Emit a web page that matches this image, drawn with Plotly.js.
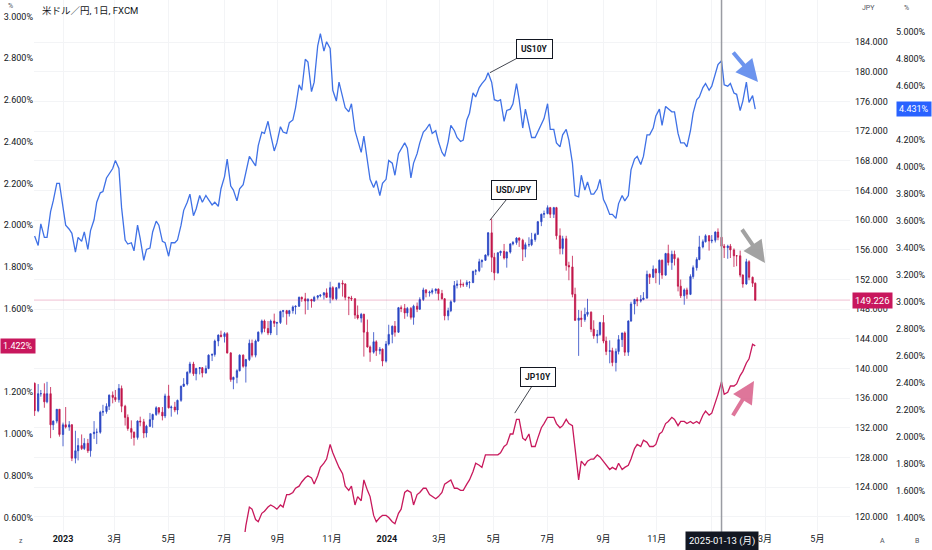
<!DOCTYPE html>
<html><head><meta charset="utf-8">
<script src="https://cdn.plot.ly/plotly-3.0.1.min.js"></script>
<style>html,body{margin:0;padding:0;background:#fff;}#chart{width:932px;height:550px;}</style>
</head><body><div id="chart"></div>
<script>
// ---- data (twice-weekly bars) ----
const dates = ['2022-12-01',
'2022-12-05','2022-12-08','2022-12-12','2022-12-15','2022-12-19','2022-12-22','2022-12-26','2022-12-29',
'2023-01-02','2023-01-05','2023-01-09','2023-01-12','2023-01-16','2023-01-19','2023-01-23','2023-01-26','2023-01-30','2023-02-02',
'2023-02-06','2023-02-09','2023-02-13','2023-02-16','2023-02-20','2023-02-23','2023-02-27','2023-03-02',
'2023-03-06','2023-03-09','2023-03-13','2023-03-16','2023-03-20','2023-03-23','2023-03-27','2023-03-30',
'2023-04-03','2023-04-06','2023-04-10','2023-04-13','2023-04-17','2023-04-20','2023-04-24','2023-04-27',
'2023-05-01','2023-05-04','2023-05-08','2023-05-11','2023-05-15','2023-05-18','2023-05-22','2023-05-25','2023-05-29','2023-06-01',
'2023-06-05','2023-06-08','2023-06-12','2023-06-15','2023-06-19','2023-06-22','2023-06-26','2023-06-29',
'2023-07-03','2023-07-06','2023-07-10','2023-07-13','2023-07-17','2023-07-20','2023-07-24','2023-07-27','2023-07-31','2023-08-03',
'2023-08-07','2023-08-10','2023-08-14','2023-08-17','2023-08-21','2023-08-24','2023-08-28','2023-08-31',
'2023-09-04','2023-09-07','2023-09-11','2023-09-14','2023-09-18','2023-09-21','2023-09-25','2023-09-28',
'2023-10-02','2023-10-05','2023-10-09','2023-10-12','2023-10-16','2023-10-19','2023-10-23','2023-10-26','2023-10-30','2023-11-02',
'2023-11-06','2023-11-09','2023-11-13','2023-11-16','2023-11-20','2023-11-23','2023-11-27','2023-11-30',
'2023-12-04','2023-12-07','2023-12-11','2023-12-14','2023-12-18','2023-12-21','2023-12-25','2023-12-28',
'2024-01-01','2024-01-04','2024-01-08','2024-01-11','2024-01-15','2024-01-18','2024-01-22','2024-01-25','2024-01-29','2024-02-01',
'2024-02-05','2024-02-08','2024-02-12','2024-02-15','2024-02-19','2024-02-22','2024-02-26','2024-02-29',
'2024-03-04','2024-03-07','2024-03-11','2024-03-14','2024-03-18','2024-03-21','2024-03-25','2024-03-28',
'2024-04-01','2024-04-04','2024-04-08','2024-04-11','2024-04-15','2024-04-18','2024-04-22','2024-04-25','2024-04-29','2024-05-02',
'2024-05-06','2024-05-09','2024-05-13','2024-05-16','2024-05-20','2024-05-23','2024-05-27','2024-05-30',
'2024-06-03','2024-06-06','2024-06-10','2024-06-13','2024-06-17','2024-06-20','2024-06-24','2024-06-27',
'2024-07-01','2024-07-04','2024-07-08','2024-07-11','2024-07-15','2024-07-18','2024-07-22','2024-07-25','2024-07-29','2024-08-01',
'2024-08-05','2024-08-08','2024-08-12','2024-08-15','2024-08-19','2024-08-22','2024-08-26','2024-08-29',
'2024-09-02','2024-09-05','2024-09-09','2024-09-12','2024-09-16','2024-09-19','2024-09-23','2024-09-26','2024-09-30','2024-10-03',
'2024-10-07','2024-10-10','2024-10-14','2024-10-17','2024-10-21','2024-10-24','2024-10-28','2024-10-31',
'2024-11-04','2024-11-07','2024-11-11','2024-11-14','2024-11-18','2024-11-21','2024-11-25','2024-11-28',
'2024-12-02','2024-12-05','2024-12-09','2024-12-12','2024-12-16','2024-12-19','2024-12-23','2024-12-26','2024-12-30','2025-01-02',
'2025-01-06','2025-01-09','2025-01-13','2025-01-16','2025-01-20','2025-01-23','2025-01-27','2025-01-30',
'2025-02-03','2025-02-06','2025-02-10','2025-02-13','2025-02-17','2025-02-20'];

const usdjpyOpen = [138.0,
134.3,136.6,136.6,135.5,136.6,132.4,132.9,134.5,
131.1,132.4,132.1,132.4,127.9,128.9,129.6,129.2,129.9,128.9,
131.2,131.4,131.4,134.1,134.2,134.9,136.4,136.1,
135.8,137.3,134.9,133.4,131.9,131.4,130.7,132.9,
132.8,131.3,132.2,133.1,133.8,134.7,134.1,133.6,
136.3,134.7,134.8,134.4,135.7,137.6,137.9,139.5,140.6,139.3,
140.0,140.1,139.4,140.0,141.8,141.9,143.7,144.5,
144.3,144.7,142.1,138.5,138.8,139.7,141.8,140.3,141.2,143.4,
141.8,143.7,144.9,146.4,145.4,144.8,146.4,146.1,
146.2,147.7,147.8,147.4,147.8,148.3,148.4,149.6,
149.4,149.1,149.3,149.1,149.6,149.8,149.9,150.2,149.6,150.9,
149.4,150.9,151.5,151.4,149.6,149.5,149.4,147.2,
146.8,147.3,144.9,142.9,142.2,143.6,142.4,142.6,
141.0,143.3,144.6,145.7,144.9,148.2,148.1,147.5,148.1,146.9,
148.4,148.0,149.3,150.6,150.2,150.3,150.5,150.7,
150.1,149.4,147.1,147.8,149.0,151.2,151.4,151.3,
151.3,151.6,151.6,153.1,153.2,154.4,154.6,155.3,158.3,155.0,
152.9,155.6,155.8,154.9,155.7,156.8,157.0,157.6,
157.3,156.1,156.7,156.7,157.4,158.1,159.8,160.8,
160.9,161.7,160.8,161.7,157.9,156.2,157.5,153.9,153.7,150.0,
146.5,146.8,146.6,147.3,147.6,145.3,144.4,144.6,
146.2,143.7,142.3,142.4,140.8,142.3,143.9,144.8,142.2,146.4,
148.7,149.3,149.1,149.3,149.5,152.7,152.3,153.4,
152.9,154.6,152.6,155.5,154.3,155.4,154.8,151.1,
149.8,150.6,150.0,152.4,153.6,154.7,156.4,157.1,157.9,157.2,
157.3,158.4,157.7,156.5,156.3,156.5,156.0,155.2,
155.2,152.6,151.4,154.4,152.3,151.5];

const usdjpyHigh = [138.1,
137.9,137.1,138.0,138.2,137.5,133.0,134.5,134.5,
132.7,134.8,132.9,132.5,131.6,130.6,131.1,130.6,130.5,131.2,
132.9,131.9,134.3,135.1,135.3,136.5,136.9,137.1,
137.9,137.7,135.1,133.8,133.0,131.5,133.0,133.5,
133.2,132.4,134.0,133.9,134.9,134.8,134.8,136.6,
137.8,135.0,135.5,135.8,137.7,138.7,139.6,140.9,140.9,140.1,
140.2,140.2,140.4,141.9,142.0,143.9,144.6,145.1,
144.9,144.9,142.2,138.9,139.9,141.9,141.9,141.3,143.9,143.9,
143.9,145.0,146.6,146.6,146.4,146.6,147.4,146.3,
147.8,147.9,147.9,147.9,148.5,148.5,149.7,149.7,
150.2,149.5,149.4,149.8,149.9,150.0,150.3,150.8,151.7,151.1,
151.0,151.6,151.9,151.5,149.7,149.8,149.5,148.5,
147.5,147.4,146.6,143.1,144.9,143.8,142.9,142.7,
143.7,145.9,145.8,146.4,148.3,148.5,148.7,148.3,148.3,148.6,
148.9,149.6,150.9,150.7,150.5,150.8,150.8,150.8,
150.6,149.5,148.2,149.2,151.8,151.9,152.0,151.6,
151.9,151.8,153.2,153.4,154.8,154.7,155.4,158.4,160.2,155.6,
155.7,155.9,156.8,155.8,156.9,157.2,157.7,157.7,
157.5,157.0,157.7,158.3,158.3,159.9,160.9,161.3,
162.0,161.8,161.8,161.8,158.9,157.9,157.9,154.4,155.2,150.9,
147.9,147.8,148.2,149.4,147.7,146.5,145.2,146.3,
147.2,144.3,143.8,142.8,142.7,144.5,144.8,145.0,146.5,149.0,
149.4,149.6,149.9,150.3,153.2,152.8,153.9,153.5,
154.7,154.7,155.6,156.7,155.9,155.9,155.0,152.0,
150.8,150.9,152.7,153.9,155.0,157.9,157.4,158.1,158.0,158.0,
158.5,158.9,158.5,156.8,156.7,156.8,156.2,155.3,
155.9,152.7,154.8,154.6,152.4,151.6];

const usdjpyLow = [133.6,
134.1,136.2,134.7,135.3,130.6,131.7,132.6,130.8,
129.5,131.9,131.6,127.5,127.2,127.6,129.0,129.0,128.6,128.1,
130.5,129.8,131.2,133.6,133.9,134.4,135.3,135.5,
135.4,134.1,132.3,131.6,130.5,129.6,130.4,132.2,
130.6,130.7,132.1,132.0,133.6,133.8,133.0,133.3,
134.6,133.5,134.1,133.8,135.5,137.5,137.7,139.3,139.0,138.4,
139.2,138.8,139.3,139.9,141.0,141.6,143.0,144.2,
143.5,142.0,138.2,137.2,138.0,139.6,140.1,138.1,141.0,141.5,
141.5,143.6,144.6,144.9,144.5,144.5,145.6,144.5,
146.0,146.9,145.9,147.0,147.4,147.3,148.3,149.0,
147.3,147.9,148.2,149.0,149.3,149.6,149.3,149.5,148.8,149.2,
149.2,150.7,149.7,149.2,147.2,149.1,146.7,146.6,
146.2,141.6,142.8,140.9,142.0,141.7,141.9,140.3,
140.8,143.1,143.4,144.3,144.8,147.6,146.7,147.0,146.6,145.9,
147.6,147.9,149.1,149.6,149.7,150.0,150.1,149.2,
149.3,146.5,146.5,147.6,148.9,150.8,150.9,151.0,
151.0,150.8,151.5,152.6,153.0,153.6,154.5,155.1,153.0,151.9,
152.8,155.2,154.7,153.6,155.5,156.6,156.7,156.4,
154.5,155.0,156.4,156.5,157.1,158.0,159.2,160.3,
160.8,160.3,160.3,157.4,155.4,155.4,153.2,151.9,149.6,146.4,
141.7,145.6,146.3,147.0,144.9,144.0,143.4,144.4,
143.4,141.8,140.7,140.3,139.6,141.9,142.9,141.7,141.7,146.3,
147.3,148.4,148.9,149.2,149.4,151.4,152.2,151.5,
151.3,152.1,152.5,153.9,153.3,153.9,150.4,149.5,
148.6,149.4,149.9,152.1,153.2,154.6,156.2,157.0,155.9,156.9,
157.0,157.3,155.9,154.9,154.8,154.9,153.7,153.8,
152.3,150.9,151.3,151.9,151.0,149.1];

const usdjpyClose = [134.3,
136.6,136.6,135.5,136.6,132.4,132.9,134.5,131.1,
132.4,132.1,132.4,127.9,128.9,129.6,129.2,129.9,128.9,131.2,
131.4,131.4,134.1,134.2,134.9,136.4,136.1,135.8,
137.3,134.9,133.4,131.9,131.4,130.7,132.9,132.8,
131.3,132.2,133.1,133.8,134.7,134.1,133.6,136.3,
134.7,134.8,134.4,135.7,137.6,137.9,139.5,140.6,139.3,140.0,
140.1,139.4,140.0,141.8,141.9,143.7,144.5,144.3,
144.7,142.1,138.5,138.8,139.7,141.8,140.3,141.2,143.4,141.8,
143.7,144.9,146.4,145.4,144.8,146.4,146.1,146.2,
147.7,147.8,147.4,147.8,148.3,148.4,149.6,149.4,
149.1,149.3,149.1,149.6,149.8,149.9,150.2,149.6,150.9,149.4,
150.9,151.5,151.4,149.6,149.5,149.4,147.2,146.8,
147.3,144.9,142.9,142.2,143.6,142.4,142.6,141.0,
143.3,144.6,145.7,144.9,148.2,148.1,147.5,148.1,146.9,148.4,
148.0,149.3,150.6,150.2,150.3,150.5,150.7,150.1,
149.4,147.1,147.8,149.0,151.2,151.4,151.3,151.3,
151.6,151.6,153.1,153.2,154.4,154.6,155.3,158.3,155.0,152.9,
155.6,155.8,154.9,155.7,156.8,157.0,157.6,157.3,
156.1,156.7,156.7,157.4,158.1,159.8,160.8,160.9,
161.7,160.8,161.7,157.9,156.2,157.5,153.9,153.7,150.0,146.5,
146.8,146.6,147.3,147.6,145.3,144.4,144.6,146.2,
143.7,142.3,142.4,140.8,142.3,143.9,144.8,142.2,146.4,148.7,
149.3,149.1,149.3,149.5,152.7,152.3,153.4,152.9,
154.6,152.6,155.5,154.3,155.4,154.8,151.1,149.8,
150.6,150.0,152.4,153.6,154.7,156.4,157.1,157.9,157.2,157.3,
158.4,157.7,156.5,156.3,156.5,156.0,155.2,155.2,
152.6,151.4,154.4,152.3,151.5,149.226];

const us10y = [3.49,
3.42,3.58,3.48,3.48,3.67,3.75,3.88,3.88,
3.69,3.57,3.54,3.51,3.37,3.48,3.45,3.52,3.39,3.53,
3.61,3.74,3.81,3.82,3.92,3.95,3.99,4.05,
3.99,3.70,3.46,3.43,3.44,3.38,3.57,3.47,
3.31,3.39,3.40,3.52,3.60,3.57,3.45,3.44,
3.34,3.44,3.44,3.46,3.57,3.68,3.74,3.80,3.64,3.69,
3.79,3.74,3.79,3.76,3.72,3.74,3.71,3.84,
3.93,4.06,3.86,3.83,3.75,3.84,3.87,3.96,4.08,4.05,
4.01,4.16,4.26,4.25,4.34,4.24,4.12,4.18,
4.30,4.26,4.25,4.33,4.35,4.44,4.61,4.57,
4.80,4.78,4.56,4.63,4.90,4.99,4.86,4.93,4.88,4.57,
4.49,4.63,4.53,4.44,4.41,4.47,4.27,4.20,
4.11,4.23,4.03,3.91,3.85,3.90,3.79,3.88,
3.91,4.05,4.03,3.94,4.10,4.13,4.18,4.14,3.92,4.03,
4.10,4.18,4.26,4.28,4.32,4.25,4.27,4.19,
4.11,4.08,4.19,4.31,4.27,4.22,4.19,4.20,
4.35,4.40,4.55,4.52,4.59,4.62,4.65,4.70,4.63,4.50,
4.49,4.50,4.34,4.42,4.43,4.47,4.62,4.50,
4.29,4.43,4.31,4.22,4.22,4.26,4.32,4.36,
4.47,4.28,4.28,4.18,4.15,4.24,4.28,4.20,4.03,3.79,
3.78,3.94,3.83,3.89,3.80,3.80,3.84,3.91,
3.76,3.72,3.65,3.65,3.62,3.73,3.79,3.75,3.79,3.98,
4.06,4.08,4.02,4.08,4.24,4.24,4.29,4.38,
4.43,4.31,4.45,4.43,4.41,4.41,4.25,4.18,
4.18,4.15,4.27,4.40,4.50,4.52,4.59,4.62,4.57,4.60,
4.69,4.76,4.79,4.61,4.60,4.62,4.55,4.54,
4.42,4.49,4.63,4.48,4.53,4.431];

const jp10y = [0.25,
0.25,0.25,0.25,0.25,0.46,0.44,0.47,0.42,
0.45,0.50,0.50,0.51,0.36,0.39,0.41,0.48,0.49,0.50,
0.50,0.50,0.50,0.50,0.51,0.50,0.50,0.51,
0.50,0.39,0.29,0.28,0.30,0.27,0.31,0.35,
0.43,0.46,0.47,0.47,0.48,0.46,0.47,0.39,
0.42,0.42,0.42,0.40,0.40,0.39,0.42,0.43,0.43,0.42,
0.43,0.43,0.43,0.40,0.37,0.37,0.38,0.40,
0.42,0.46,0.47,0.48,0.47,0.46,0.46,0.56,0.65,0.64,
0.59,0.58,0.62,0.63,0.65,0.66,0.65,0.64,
0.66,0.65,0.71,0.71,0.72,0.74,0.75,0.77,
0.79,0.80,0.79,0.76,0.80,0.84,0.86,0.88,0.95,0.91,
0.87,0.84,0.81,0.75,0.73,0.75,0.66,0.70,
0.68,0.78,0.73,0.70,0.61,0.58,0.60,0.61,
0.61,0.60,0.58,0.57,0.62,0.64,0.72,0.73,0.72,0.66,
0.71,0.72,0.74,0.74,0.71,0.70,0.69,0.70,
0.72,0.76,0.77,0.78,0.74,0.74,0.73,0.73,
0.76,0.78,0.82,0.86,0.85,0.84,0.90,0.90,0.90,0.90,
0.90,0.91,0.94,0.95,1.00,1.00,1.07,1.07,
0.98,0.97,1.00,0.94,0.94,0.98,1.03,1.05,
1.08,1.08,1.08,1.05,1.03,1.04,1.07,1.05,1.04,0.93,
0.78,0.87,0.85,0.87,0.88,0.88,0.90,0.89,
0.87,0.85,0.83,0.84,0.83,0.86,0.83,0.84,0.85,0.88,
0.93,0.95,0.94,0.97,0.96,0.94,0.94,0.95,
1.00,1.01,1.05,1.06,1.08,1.07,1.04,1.06,
1.06,1.05,1.06,1.05,1.06,1.05,1.09,1.11,1.09,1.10,
1.15,1.19,1.25,1.19,1.20,1.23,1.23,1.24,
1.28,1.30,1.34,1.36,1.43,1.422];

const xTickVals = ['2023-01-02','2023-03-01','2023-05-01','2023-07-03','2023-09-01','2023-11-01',
'2024-01-02','2024-03-01','2024-05-01','2024-07-01','2024-09-02','2024-11-01','2025-01-02','2025-03-03','2025-05-01'];
const xTickText = ['<b>2023</b>','3月','5月','7月','9月','11月','<b>2024</b>','3月','5月','7月','9月','11月','','3月','5月'];
const jpTickVals = [0.6,0.8,1.0,1.2,1.6,1.8,2.0,2.2,2.4,2.6,2.8,3.0];
const jpyTickVals = [120,124,128,132,136,140,144,148,152,156,160,164,168,172,176,180,184];
const usTickVals = [1.4,1.6,1.8,2.0,2.2,2.4,2.6,2.8,3.0,3.2,3.4,3.6,3.8,4.0,4.2,4.6,4.8,5.0];
const lastUSDJPY = 149.226, lastUS10Y = 4.431, lastJP10Y = 1.422;
const markDate = '2025-01-13';

// ---- layout helpers ----
const FONT = 'Roboto, "Noto Sans CJK JP", "Noto Sans", sans-serif';
const W = 932, H = 550, PL = 34, PR = 850, PB = 532;
const px = x => x / W;            // paper x (no side margins)
const py = y => 1 - y / PB;       // paper y (plot area spans 0..PB px)
const txt = '#131722', gridC = '#f3f4f6';
const upC = '#2a45c4', downC = '#c2174a', usC = '#3f71e6', jpC = '#c8195c';
const pctText = v => v.toFixed(3) + '%';

const traces = [
  {type:'scatter', mode:'lines', x:dates, y:us10y, yaxis:'y3', line:{color:usC, width:1.3}, hoverinfo:'skip'},
  {type:'scatter', mode:'lines', x:dates, y:jp10y, yaxis:'y', line:{color:jpC, width:1.3}, hoverinfo:'skip'},
  {type:'candlestick', x:dates, open:usdjpyOpen, high:usdjpyHigh, low:usdjpyLow, close:usdjpyClose, yaxis:'y2',
   increasing:{line:{color:upC, width:0.8}, fillcolor:upC},
   decreasing:{line:{color:downC, width:0.8}, fillcolor:downC},
   whiskerwidth:0, hoverinfo:'skip'}
];

const tickF = {family:FONT, size:9, color:txt};
const small = (t, x, y, extra) => Object.assign({xref:'paper', yref:'paper', x:px(x), y:py(y), text:t,
  showarrow:false, xanchor:'left', yanchor:'middle', font:{family:FONT, size:7, color:'#50535e'}}, extra || {});

const callout = (t, yr, x, y, ax, ay) => ({xref:'x', yref:yr, x:x, y:y, text:'<b>'+t+'</b>', showarrow:true,
  arrowhead:0, arrowwidth:0.8, arrowcolor:txt, ax:ax, ay:ay, bgcolor:'#ffffff', bordercolor:txt, borderwidth:1,
  borderpad:4, font:{family:FONT, size:8.5, color:txt}});

const bigArrow = (hx, hy, ax, ay, c) => ({xref:'paper', yref:'paper', x:px(hx), y:py(hy), ax:ax, ay:ay, text:'',
  showarrow:true, arrowhead:2, arrowsize:1.1, arrowwidth:4, arrowcolor:c});

const layout = {
  width:W, height:H, margin:{l:0, r:0, t:0, b:H-PB}, paper_bgcolor:'#fff', plot_bgcolor:'#fff',
  showlegend:false, font:{family:FONT, color:txt},
  xaxis:{type:'date', domain:[px(PL), px(PR)], range:['2022-11-30 07:40','2025-06-06 18:14'],
    tickvals:xTickVals, ticktext:xTickText, showgrid:true, gridcolor:gridC, gridwidth:1, ticks:'',
    showline:false, zeroline:false, tickfont:tickF, rangeslider:{visible:false}, fixedrange:true, automargin:false},
  yaxis:{range:[0.5305, 3.079], side:'left', tickvals:jpTickVals, ticktext:jpTickVals.map(pctText),
    showgrid:false, zeroline:false, showline:false, ticks:'', tickfont:tickF, fixedrange:true, automargin:false},
  yaxis2:{range:[117.94, 189.71], overlaying:'y', side:'right', anchor:'x', tickvals:jpyTickVals,
    ticktext:jpyTickVals.map(v => v.toFixed(3)),
    showgrid:true, gridcolor:gridC, zeroline:false, showline:false, ticks:'', tickfont:tickF, ticklabelstandoff:4,
    fixedrange:true, automargin:false},
  yaxis3:{range:[1.296, 5.239], overlaying:'y', side:'right', anchor:'free', position:px(895), tickvals:usTickVals,
    ticktext:usTickVals.map(pctText), showgrid:false, zeroline:false, showline:false, ticks:'', tickfont:tickF,
    fixedrange:true, automargin:false},
  shapes:[
    {type:'line', xref:'paper', yref:'y2', x0:px(PL), x1:px(PR), y0:lastUSDJPY, y1:lastUSDJPY,
     line:{color:'rgba(200,25,92,0.28)', width:1}},
    {type:'line', xref:'x', yref:'paper', x0:markDate, x1:markDate, y0:0, y1:1,
     line:{color:'#9a9ca3', width:1.5}, layer:'above'}
  ],
  annotations:[
    small('米ドル／円, 1日, FXCM', 40, 10, {font:{family:FONT, size:9.5, color:txt}}),
    small('%', 6, 6),
    small('JPY', 860, 8),
    small('%', 902, 8),
    small('z', 17, 541),
    small('A', 878, 541),
    small('B', 913, 541),
    {xref:'x', yref:'paper', x:markDate, y:py(541), xanchor:'center', yanchor:'middle', text:'2025-01-13 (月)',
     showarrow:false, bgcolor:'#131722', borderpad:3, font:{family:FONT, size:9.5, color:'#fff'}},
    {xref:'paper', yref:'y2', x:px(852), y:lastUSDJPY, xanchor:'left', yanchor:'middle', text:lastUSDJPY.toFixed(3),
     showarrow:false, bgcolor:'#c8175d', borderpad:2, font:{family:FONT, size:9.5, color:'#fff'}},
    {xref:'paper', yref:'y3', x:px(896), y:lastUS10Y, xanchor:'left', yanchor:'middle', text:pctText(lastUS10Y),
     showarrow:false, bgcolor:'#2962ff', borderpad:2, font:{family:FONT, size:9, color:'#fff'}},
    {xref:'paper', yref:'y', x:0, y:lastJP10Y, xanchor:'left', yanchor:'middle', text:pctText(lastJP10Y),
     showarrow:false, bgcolor:'#c8175d', borderpad:2, font:{family:FONT, size:9, color:'#fff'}},
    callout('US10Y', 'y3', '2024-04-27', 4.70, 45, -24),
    callout('USD/JPY', 'y2', '2024-04-27', 160.0, 24, -30),
    callout('JP10Y', 'y', '2024-05-25', 1.10, 23, -36),
    bigArrow(758, 82, -26, -31, 'rgba(72,122,235,0.8)'),
    bigArrow(765, 263, -24, -35, 'rgba(140,140,140,0.8)'),
    bigArrow(754, 381, -22, 36, 'rgba(215,85,130,0.8)')
  ]
};

Plotly.newPlot('chart', traces, layout, {staticPlot:true, displayModeBar:false});
</script>
</body></html>
